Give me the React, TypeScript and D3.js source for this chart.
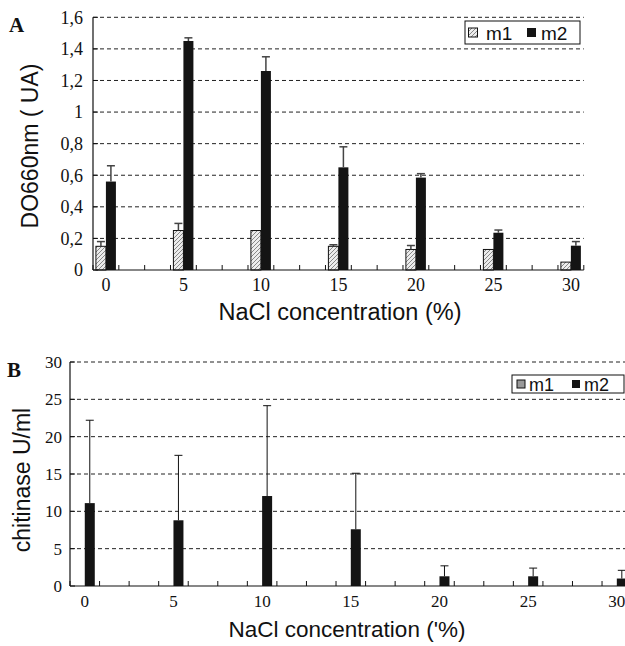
import * as d3 from 'd3'

const categories = [0, 5, 10, 15, 20, 25, 30]
const slotCount = 19

// panel A: optical density
const odM1 = [0.15, 0.25, 0.25, 0.15, 0.13, 0.13, 0.05]
const odM1Err = [0.03, 0.045, 0, 0.01, 0.025, 0, 0]
const odM2 = [0.56, 1.45, 1.26, 0.65, 0.585, 0.236, 0.154]
const odM2Err = [0.1, 0.02, 0.09, 0.13, 0.025, 0.017, 0.026]
const odTicks = [0, 0.2, 0.4, 0.6, 0.8, 1, 1.2, 1.4, 1.6]
const odTickLabels = ['0', '0,2', '0,4', '0,6', '0,8', '1', '1,2', '1,4', '1,6']

// panel B: chitinase activity
const chitM1 = [0, 0, 0, 0, 0, 0, 0]
const chitM2 = [11.1, 8.8, 12.05, 7.6, 1.3, 1.3, 1.0]
const chitM2Err = [11.1, 8.7, 12.1, 7.5, 1.4, 1.1, 1.1]
const chitTicks = [0, 5, 10, 15, 20, 25, 30]

const sans = 'Liberation Sans, Arial, sans-serif'
const serif = 'Liberation Serif, Times New Roman, serif'

type PanelProps = {
  x0: number; x1: number; yTop: number; y0: number
  yMax: number
  ticks: number[]; tickLabels: string[]
  m1: number[]; m1Err: number[] | null; m2: number[]; m2Err: number[]
  m1Fill: string
  tickFont: number; xLabelY: number; yLabelX: number
  errColor: string; errWidth: number
}

function Panel(p: PanelProps) {
  const slot = d3.scaleBand<number>().domain(d3.range(slotCount)).range([p.x0, p.x1]).padding(0)
  const center = (i: number) => (slot(i * 3) ?? 0) + slot.bandwidth() / 2
  const y = d3.scaleLinear().domain([0, p.yMax]).range([p.y0, p.yTop])
  const bw = 10
  const cap = 8
  const boundaries = d3.range(slotCount + 1).map(k => p.x0 + k * slot.bandwidth())

  return (
    <g>
      {p.ticks.filter(t => t > 0).map(t => (
        <line key={'g' + t} x1={p.x0} x2={p.x1} y1={y(t)} y2={y(t)}
          stroke="#222" strokeWidth={1} strokeDasharray="4,3" />
      ))}
      {categories.map((c, i) => {
        const cx = center(i)
        const v1 = p.m1[i], v2 = p.m2[i]
        const e1 = p.m1Err ? p.m1Err[i] : 0
        const e2 = p.m2Err[i]
        return (
          <g key={c}>
            {v1 > 0 && (
              <rect x={cx - bw} y={y(v1)} width={bw} height={p.y0 - y(v1)}
                fill={p.m1Fill} stroke="#111" strokeWidth={1} />
            )}
            {e1 > 0 && (
              <g stroke={p.errColor} strokeWidth={p.errWidth}>
                <line x1={cx - bw / 2} x2={cx - bw / 2} y1={y(v1)} y2={y(v1 + e1)} />
                <line x1={cx - bw / 2 - cap / 2} x2={cx - bw / 2 + cap / 2} y1={y(v1 + e1)} y2={y(v1 + e1)} />
              </g>
            )}
            <rect x={cx} y={y(v2)} width={bw} height={p.y0 - y(v2)} fill="#141414" />
            {e2 > 0 && (
              <g stroke={p.errColor} strokeWidth={p.errWidth}>
                <line x1={cx + bw / 2} x2={cx + bw / 2} y1={y(v2)} y2={y(v2 + e2)} />
                <line x1={cx + bw / 2 - cap / 2} x2={cx + bw / 2 + cap / 2} y1={y(v2 + e2)} y2={y(v2 + e2)} />
              </g>
            )}
            <text x={cx} y={p.xLabelY} textAnchor="middle" fontFamily={serif} fontSize={p.tickFont} fill="#111">{c}</text>
          </g>
        )
      })}
      {boundaries.map((bx, k) => (
        <line key={'t' + k} x1={bx} x2={bx} y1={p.y0} y2={p.y0 - 5} stroke="#111" strokeWidth={1} />
      ))}
      {p.ticks.map((t, k) => (
        <g key={'y' + t}>
          <line x1={p.x0} x2={p.x0 + 5} y1={y(t)} y2={y(t)} stroke="#111" strokeWidth={1} />
          <text x={p.yLabelX} y={y(t)} dy="0.35em" textAnchor="end" fontFamily={serif} fontSize={p.tickFont} fill="#111">
            {p.tickLabels[k]}
          </text>
        </g>
      ))}
      <line x1={p.x0} x2={p.x0} y1={p.yTop} y2={p.y0} stroke="#111" strokeWidth={1.2} />
      <line x1={p.x0} x2={p.x1} y1={p.y0} y2={p.y0} stroke="#111" strokeWidth={1.2} />
    </g>
  )
}

export default function App() {
  return (
    <div style={{ position: 'absolute', left: 0, top: 0 }}>
      <svg width={625} height={646} style={{ display: 'block', background: '#fff' }}>
        <defs>
          <pattern id="hatch" patternUnits="userSpaceOnUse" width={4} height={4}>
            <rect width={4} height={4} fill="#ececec" />
            <path d="M-1,1 l2,-2 M0,4 l4,-4 M3,5 l2,-2" stroke="#888" strokeWidth={1} />
          </pattern>
        </defs>

        {/* panel A */}
        <text x={9} y={32} fontFamily={serif} fontWeight="bold" fontSize={21} fill="#111">A</text>
        <Panel x0={93} x1={583.8} yTop={17.3} y0={270} yMax={1.6}
          ticks={odTicks} tickLabels={odTickLabels}
          m1={odM1} m1Err={odM1Err} m2={odM2} m2Err={odM2Err}
          m1Fill="url(#hatch)" tickFont={18} xLabelY={291} yLabelX={83}
          errColor="#444" errWidth={1.5} />
        <text transform="translate(38,146) rotate(-90)" textAnchor="middle" fontFamily={sans} fontSize={23} fill="#111">DO660nm ( UA)</text>
        <text x={340} y={320} textAnchor="middle" fontFamily={sans} fontSize={23.5} fill="#111">NaCl concentration (%)</text>
        <g>
          <rect x={465} y={21} width={115} height={23} fill="#fff" stroke="#111" strokeWidth={1} />
          <rect x={468.5} y={28} width={9} height={9} fill="url(#hatch)" stroke="#111" strokeWidth={1} />
          <text x={486} y={39.5} fontFamily={sans} fontSize={19} fill="#111">m1</text>
          <rect x={527} y={28} width={9} height={9} fill="#141414" />
          <text x={541} y={39.5} fontFamily={sans} fontSize={19} fill="#111">m2</text>
        </g>

        {/* panel B */}
        <text x={7} y={377} fontFamily={serif} fontWeight="bold" fontSize={21} fill="#111">B</text>
        <Panel x0={70} x1={631.6} yTop={362} y0={586} yMax={30}
          ticks={chitTicks} tickLabels={chitTicks.map(String)}
          m1={chitM1} m1Err={null} m2={chitM2} m2Err={chitM2Err}
          m1Fill="#999" tickFont={17} xLabelY={607} yLabelX={62}
          errColor="#111" errWidth={1} />
        <text transform="translate(30,480) rotate(-90)" textAnchor="middle" fontFamily={sans} fontSize={23} fill="#111">chitinase U/ml</text>
        <text x={347} y={637} textAnchor="middle" fontFamily={sans} fontSize={22.5} fill="#111">NaCl concentration ('%)</text>
        <g>
          <rect x={512} y={375} width={112} height={18} fill="#fff" stroke="#111" strokeWidth={1} />
          <rect x={517} y={380} width={8} height={8} fill="#999" stroke="#111" strokeWidth={1} />
          <text x={529} y={391} fontFamily={sans} fontSize={18} fill="#111">m1</text>
          <rect x={572} y={380} width={8} height={8} fill="#141414" />
          <text x={584} y={391} fontFamily={sans} fontSize={18} fill="#111">m2</text>
        </g>
      </svg>
    </div>
  )
}
